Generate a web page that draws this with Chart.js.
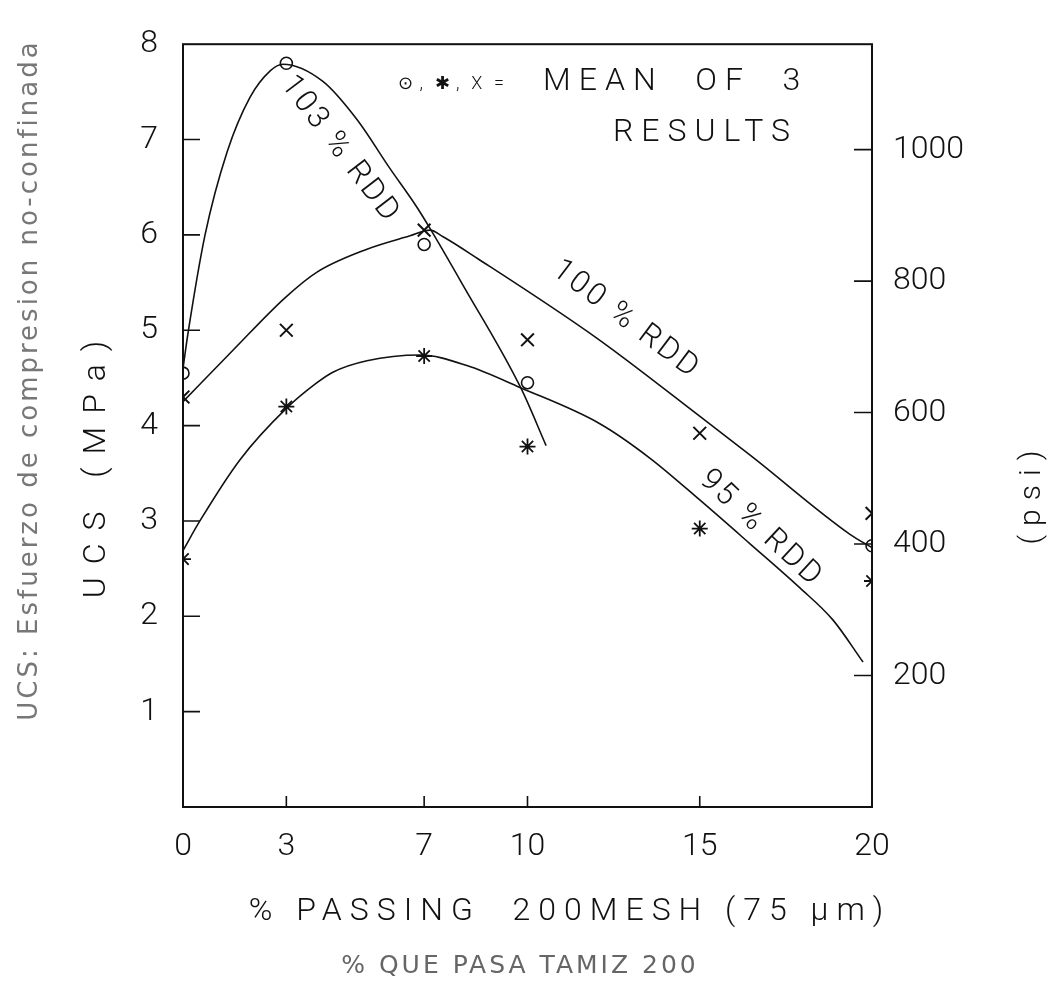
<!DOCTYPE html>
<html lang="en">
<head>
    <meta charset="UTF-8">
    <title>UCS vs % passing 200 mesh</title>
    <script src="https://cdn.jsdelivr.net/npm/chart.js"></script>
    <style>
        body { margin: 0; background: #fff; }
        canvas { display: block; }
    </style>
</head>
<body>
    <canvas id="ucsChart" width="1050" height="986"></canvas>

    <script>
        // axis ticks
        const xTicks = [0, 3, 7, 10, 15, 20];
        const mpaTicks = [1, 2, 3, 4, 5, 6, 7, 8];
        const psiTicks = [200, 400, 600, 800, 1000];
        const PSI_PER_MPA = 145.04;

        // fitted curves
        const rdd103X = [0, 0.15, 0.64, 1.28, 1.94, 2.53, 2.9, 4.06, 5.05, 6.0, 6.79, 7.2, 8.1, 9.8, 10.54];
        const rdd103Y = [4.6, 4.98, 6.0, 6.87, 7.44, 7.72, 7.79, 7.61, 7.21, 6.7, 6.29, 6.05, 5.49, 4.4, 3.79];

        const rdd100X = [0, 1.45, 2.96, 3.89, 5.34, 6.59, 7.17, 7.55, 8.56, 12.0, 15.1, 16.5, 19.36, 20];
        const rdd100Y = [4.25, 4.79, 5.34, 5.61, 5.85, 5.99, 6.05, 5.98, 5.75, 4.92, 4.07, 3.68, 2.86, 2.72];

        const rdd95X = [0, 0.49, 1.65, 3.0, 3.89, 4.35, 5.34, 6.88, 8.24, 9.78, 12.1, 13.55, 15.0, 16.46, 17.9, 18.87, 19.74];
        const rdd95Y = [2.69, 3.0, 3.64, 4.18, 4.45, 4.56, 4.68, 4.74, 4.63, 4.4, 4.02, 3.66, 3.22, 2.76, 2.3, 1.96, 1.52];

        // mean test results (o, *, x)
        const circleX = [0, 3, 7, 10, 20];
        const circleY = [4.55, 7.8, 5.9, 4.45, 2.74];
        const starX = [0, 3, 7, 10, 15, 20];
        const starY = [2.6, 4.2, 4.73, 3.78, 2.92, 2.37];
        const crossX = [0, 3, 7, 10, 15, 20];
        const crossY = [4.3, 5.0, 6.05, 4.9, 3.92, 3.08];

        const pts = (xs, ys) => xs.map((x, i) => ({ x: x, y: ys[i] }));

        const INK = '#111';
        const FONT = 'Roboto, "DejaVu Sans", sans-serif';

        const curve = (label, xs, ys) => ({
            label: label,
            data: pts(xs, ys),
            showLine: true,
            borderColor: INK,
            borderWidth: 1.6,
            pointRadius: 0,
            cubicInterpolationMode: 'monotone'
        });

        function text(ctx, str, x, y, o) {
            ctx.save();
            ctx.translate(x, y);
            ctx.rotate((o.angle || 0) * Math.PI / 180);
            ctx.font = (o.weight || 300) + ' ' + o.size + 'px ' + (o.family || FONT);
            ctx.letterSpacing = (o.spacing || 0) + 'px';
            ctx.fillStyle = o.color || INK;
            ctx.textAlign = o.align || 'center';
            ctx.textBaseline = 'middle';
            ctx.fillText(str, 0, 0);
            ctx.restore();
        }

        const decor = {
            id: 'decor',
            afterDraw(chart) {
                const { ctx, chartArea: a, scales } = chart;
                ctx.save();
                ctx.strokeStyle = INK;
                ctx.lineWidth = 2;
                ctx.strokeRect(a.left, a.top, a.right - a.left, a.bottom - a.top);

                // tick marks point inwards
                ctx.lineWidth = 1.6;
                ctx.beginPath();
                mpaTicks.slice(0, -1).forEach(v => {
                    const y = scales.y.getPixelForValue(v);
                    ctx.moveTo(a.left, y); ctx.lineTo(a.left + 17, y);
                });
                psiTicks.forEach(v => {
                    const y = scales.psi.getPixelForValue(v);
                    ctx.moveTo(a.right - 18, y); ctx.lineTo(a.right, y);
                });
                xTicks.slice(1, -1).forEach(v => {
                    const x = scales.x.getPixelForValue(v);
                    ctx.moveTo(x, a.bottom); ctx.lineTo(x, a.bottom - 11);
                });
                ctx.stroke();
                ctx.restore();

                // legend note
                text(ctx, '⊙ ,  ✱ ,  X  =', 398, 84, { size: 18, align: 'left', spacing: 1 });
                text(ctx, 'MEAN  OF  3', 543, 82, { size: 32, align: 'left', spacing: 8 });
                text(ctx, 'RESULTS', 613, 133, { size: 32, align: 'left', spacing: 8 });

                // curve labels
                text(ctx, '103 % RDD', 340, 150, { size: 31, angle: 52.7, spacing: 3 });
                text(ctx, '100 % RDD', 626, 320, { size: 31, angle: 37, spacing: 3 });
                text(ctx, '95 % RDD', 761, 529, { size: 31, angle: 43, spacing: 3 });

                // axis titles
                text(ctx, 'UCS: Esfuerzo de compresion no-confinada', 30, 380,
                    { size: 26, angle: -90, spacing: 3, color: '#777', family: '"DejaVu Sans", sans-serif', weight: 400 });
                text(ctx, 'UCS (MPa)', 97, 463, { size: 32, angle: -90, spacing: 13 });
                text(ctx, '(psi)', 1032, 493, { size: 30, angle: -90, spacing: 9 });
                text(ctx, '% PASSING  200MESH (75 µm)', 570, 912, { size: 32, spacing: 8 });
                text(ctx, '% QUE PASA TAMIZ 200', 520, 966,
                    { size: 25, spacing: 3, color: '#666', family: '"DejaVu Sans", sans-serif', weight: 400 });
            }
        };

        const tickFont = { family: FONT, size: 32, weight: 300 };
        const plain = v => String(v);

        new Chart(document.getElementById('ucsChart'), {
            type: 'scatter',
            data: {
                datasets: [
                    curve('103% RDD', rdd103X, rdd103Y),
                    curve('100% RDD', rdd100X, rdd100Y),
                    curve('95% RDD', rdd95X, rdd95Y),
                    {
                        label: 'o',
                        data: pts(circleX, circleY),
                        pointStyle: 'circle',
                        pointRadius: 6,
                        backgroundColor: '#fff',
                        borderColor: INK,
                        borderWidth: 1.6
                    },
                    {
                        label: '*',
                        data: pts(starX, starY),
                        pointStyle: 'star',
                        pointRadius: 8,
                        borderColor: INK,
                        borderWidth: 1.8
                    },
                    {
                        label: 'x',
                        data: pts(crossX, crossY),
                        pointStyle: 'crossRot',
                        pointRadius: 9,
                        borderColor: INK,
                        borderWidth: 2
                    }
                ]
            },
            options: {
                responsive: false,
                animation: false,
                devicePixelRatio: 1,
                layout: { padding: { top: 22, left: 0, right: 0, bottom: 0 } },
                plugins: {
                    legend: { display: false },
                    tooltip: { enabled: false }
                },
                scales: {
                    x: {
                        type: 'linear',
                        min: 0,
                        max: 20,
                        grid: { display: false, drawTicks: false },
                        border: { display: false },
                        ticks: { color: INK, font: tickFont, padding: 21, callback: plain },
                        afterBuildTicks: s => { s.ticks = xTicks.map(v => ({ value: v })); },
                        afterFit: s => { s.height = 179; }
                    },
                    y: {
                        position: 'left',
                        min: 0,
                        max: 8,
                        grid: { display: false, drawTicks: false },
                        border: { display: false },
                        ticks: { color: INK, font: tickFont, padding: 25, callback: plain },
                        afterBuildTicks: s => { s.ticks = mpaTicks.map(v => ({ value: v })); },
                        afterFit: s => { s.width = 183; }
                    },
                    psi: {
                        position: 'right',
                        min: 0,
                        max: 8 * PSI_PER_MPA,
                        grid: { display: false, drawTicks: false },
                        border: { display: false },
                        ticks: { color: INK, font: tickFont, padding: 21, callback: plain },
                        afterBuildTicks: s => { s.ticks = psiTicks.map(v => ({ value: v })); },
                        afterFit: s => { s.width = 178; }
                    }
                }
            },
            plugins: [decor]
        });
    </script>
</body>
</html>
